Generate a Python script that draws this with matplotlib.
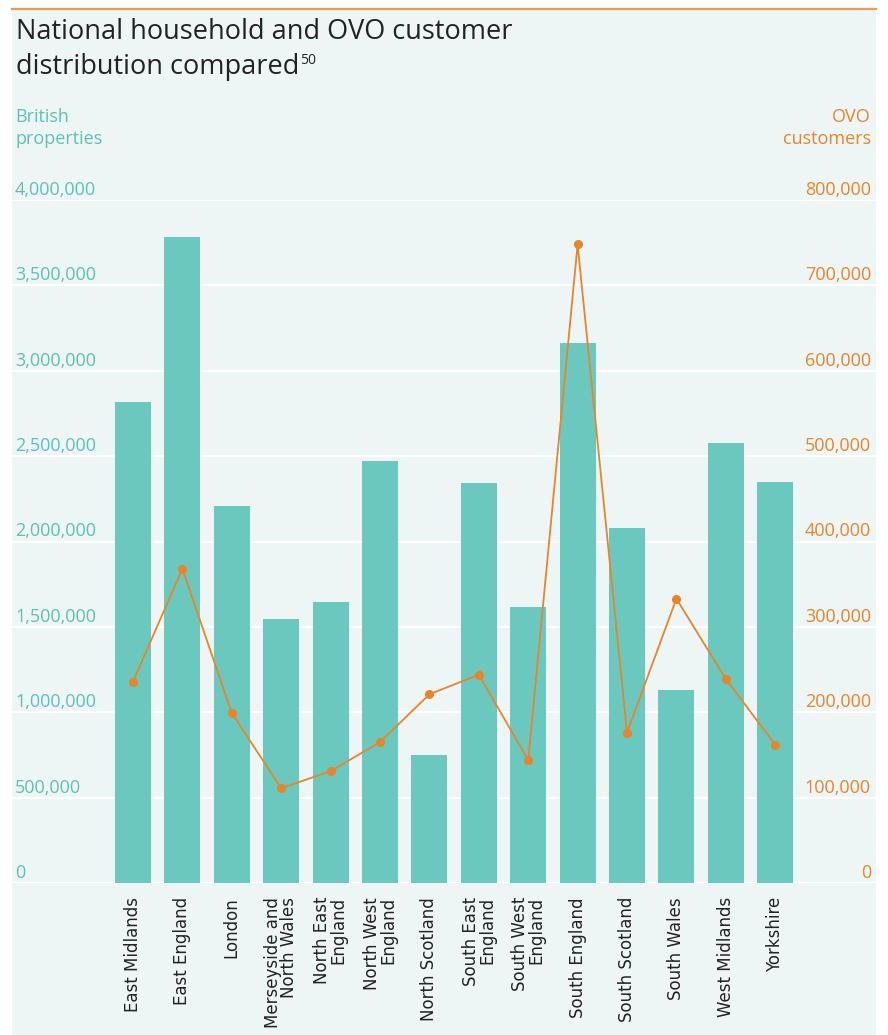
import matplotlib
matplotlib.use("Agg")
import matplotlib.pyplot as plt
from matplotlib.patches import Rectangle
from matplotlib.lines import Line2D

regions = ["East Midlands", "East England", "London", "Merseyside and\nNorth Wales",
           "North East\nEngland", "North West\nEngland", "North Scotland",
           "South East\nEngland", "South West\nEngland", "South England",
           "South Scotland", "South Wales", "West Midlands", "Yorkshire"]
properties = [2817000, 3783000, 2208000, 1546000, 1646000, 2471000, 750000,
              2343000, 1616000, 3163000, 2079000, 1130000, 2577000, 2348000]
ovo_customers = [236000, 368000, 199000, 111000, 131000, 165000, 221000,
                 244000, 144000, 748000, 176000, 333000, 239000, 162000]
left_ticks = [0, 500000, 1000000, 1500000, 2000000, 2500000, 3000000, 3500000, 4000000]
right_ticks = [0, 100000, 200000, 300000, 400000, 500000, 600000, 700000, 800000]

TEAL = "#6BC8BE"
TEAL_TXT = "#5DC1B4"
ORANGE = "#E8842A"
BG = "#EEF6F5"
DARK = "#222222"

W, H = 888, 1035
fig = plt.figure(figsize=(W / 100, H / 100), dpi=100, facecolor="white")

def fx(px):
    return px / W

def fy(py):
    return 1 - py / H

# background panel and top rule
fig.patches.append(Rectangle((fx(12), 0), fx(876) - fx(12), fy(10), transform=fig.transFigure,
                             facecolor=BG, edgecolor="none", zorder=-10))
fig.lines.append(Line2D([fx(12), fx(876)], [fy(9), fy(9)], transform=fig.transFigure,
                        color="#EE9A4D", linewidth=1.6, zorder=-5))

# axes spanning the panel
ax_left, ax_right = 12, 876
ax_top, ax_bottom = 200, 883
ax = fig.add_axes([fx(ax_left), fy(ax_bottom), fx(ax_right) - fx(ax_left), (ax_bottom - ax_top) / H])
ax.set_facecolor("none")
ax2 = ax.twinx()
ax2.set_facecolor("none")

n = len(regions)
x = list(range(n))
x0_px, step_px = 133, 49.4
ax.set_xlim((ax_left - x0_px) / step_px, (ax_right - x0_px) / step_px)
ax.set_ylim(0, 4000000)
ax2.set_ylim(0, 800000)

for t in left_ticks:
    ax.axhline(t, color="white", linewidth=1.6, zorder=1)

ax.bar(x, properties, width=0.73, color=TEAL, zorder=2)
ax2.plot(x, ovo_customers, color=ORANGE, linewidth=1.3, marker="o", markersize=5.5, zorder=3)

for a in (ax, ax2):
    for s in a.spines.values():
        s.set_visible(False)
    a.set_yticks([])
    a.tick_params(axis="x", length=0)
ax.set_xticks([])

# tick labels
for t in left_ticks:
    ax.annotate(f"{t:,}", xy=(0, t), xycoords=("axes fraction", "data"),
                xytext=(3, 1), textcoords="offset pixels", ha="left", va="bottom",
                color=TEAL_TXT, fontsize=13, family="Open Sans",
                annotation_clip=False)
for t in right_ticks:
    ax2.annotate(f"{t:,}", xy=(1, t), xycoords=("axes fraction", "data"),
                 xytext=(-5, 1), textcoords="offset pixels", ha="right", va="bottom",
                 color=ORANGE, fontsize=13, family="Open Sans",
                 annotation_clip=False)

# category labels
for i, lab in enumerate(regions):
    ax.annotate(lab, xy=(i, 0), xycoords="data", xytext=(0, -14), textcoords="offset pixels",
                rotation=90, ha="center", va="top", multialignment="right",
                color=DARK, fontsize=12, family="DejaVu Sans", linespacing=0.88,
                annotation_clip=False)

# titles
fig.text(fx(16), fy(32), "National household and OVO customer", ha="left", va="center",
         fontsize=19.5, color=DARK, family="Open Sans")
t2 = fig.text(fx(16), fy(67), "distribution compared", ha="left", va="center",
              fontsize=19.5, color=DARK, family="Open Sans")
fig.canvas.draw()
bb = t2.get_window_extent()
fig.text(bb.x1 / W + 0.001, fy(60), "50", ha="left", va="center",
         fontsize=10, color=DARK, family="Open Sans")
fig.text(fx(15), fy(128), "British\nproperties", ha="left", va="center",
         fontsize=13, color=TEAL_TXT, family="Open Sans", linespacing=1.3)
fig.text(fx(871), fy(128), "OVO\ncustomers", ha="right", va="center",
         fontsize=13, color=ORANGE, family="Open Sans", linespacing=1.3, multialignment="right")

fig.savefig("out.png", dpi=100, facecolor="white")
